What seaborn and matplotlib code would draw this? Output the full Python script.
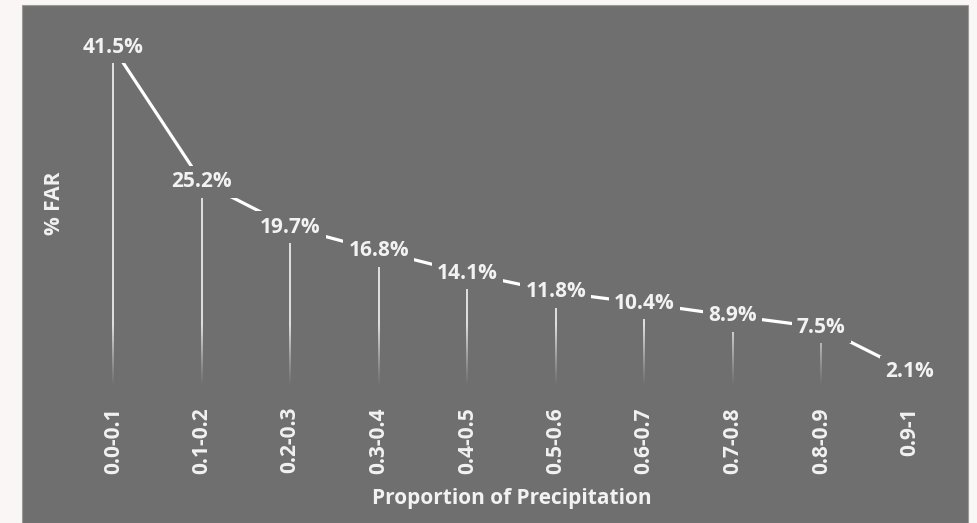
import numpy as np
import pandas as pd
import matplotlib
matplotlib.use("Agg")
import matplotlib.pyplot as plt
from matplotlib.collections import LineCollection
from matplotlib.patches import Rectangle
import seaborn as sns

# data
categories = ["0.0-0.1", "0.1-0.2", "0.2-0.3", "0.3-0.4", "0.4-0.5",
              "0.5-0.6", "0.6-0.7", "0.7-0.8", "0.8-0.9", "0.9-1"]
far_pct = [41.5, 25.2, 19.7, 16.8, 14.1, 11.8, 10.4, 8.9, 7.5, 2.1]

panel = "#6f6f6f"
txt = "#f2f2f2"

sns.set_theme(style="white")
plt.rcParams["font.family"] = ["Open Sans", "DejaVu Sans"]
plt.rcParams["font.weight"] = "bold"

df = pd.DataFrame({"cat": categories, "far": far_pct})
df["pos"] = range(len(df))

fig = plt.figure(figsize=(9.77, 5.23), dpi=100)
fig.patch.set_facecolor("#fbf6f6")
fig.patches.append(Rectangle((22 / 977, 0), 946 / 977, 518 / 523,
                             transform=fig.transFigure, facecolor=panel,
                             edgecolor="#9a9a9a", linewidth=0.8, zorder=-5))

ax = fig.add_axes([69 / 977, (523 - 389) / 523, 885 / 977, 370 / 523])
ax.set_facecolor("none")

sns.lineplot(data=df, x="pos", y="far", ax=ax, color="white",
             linewidth=2.3, zorder=2)

# drop lines fading towards the axis
for x, v in zip(df["pos"], df["far"]):
    ys = np.linspace(v, 0, 150)
    segs = [[(x, ys[i]), (x, ys[i + 1])] for i in range(len(ys) - 1)]
    mids = (ys[:-1] + ys[1:]) / 2
    alphas = np.clip((mids - 0.3) / 7.5, 0, 1) ** 1.2 * 0.85
    cols = [(1, 1, 1, a) for a in alphas]
    ax.add_collection(LineCollection(segs, colors=cols, linewidths=1.3, zorder=1))

for x, v in zip(df["pos"], df["far"]):
    ax.text(x, v, f"{v:.1f}%", ha="center", va="center", color=txt,
            fontsize=15, fontweight="bold", zorder=3,
            bbox=dict(boxstyle="square,pad=0.25", fc=panel, ec="none"))

ax.set_xlim(-0.5, 9.5)
ax.set_ylim(0, 45)
ax.set_xticks(df["pos"])
ax.set_xticklabels(categories, rotation=90, color=txt, fontsize=15,
                   fontweight="bold")
ax.tick_params(axis="x", length=0, pad=13)
ax.set_yticks([])
sns.despine(ax=ax, left=True, bottom=True)
ax.set_xlabel("Proportion of Precipitation", color=txt, fontsize=15,
              fontweight="bold", labelpad=10)
ax.set_ylabel("")
fig.text(55 / 977, 1 - 203 / 523, "% FAR", rotation=90, ha="center",
         va="center", color=txt, fontsize=15, fontweight="bold")

fig.savefig("out.png", dpi=100, facecolor=fig.get_facecolor())
